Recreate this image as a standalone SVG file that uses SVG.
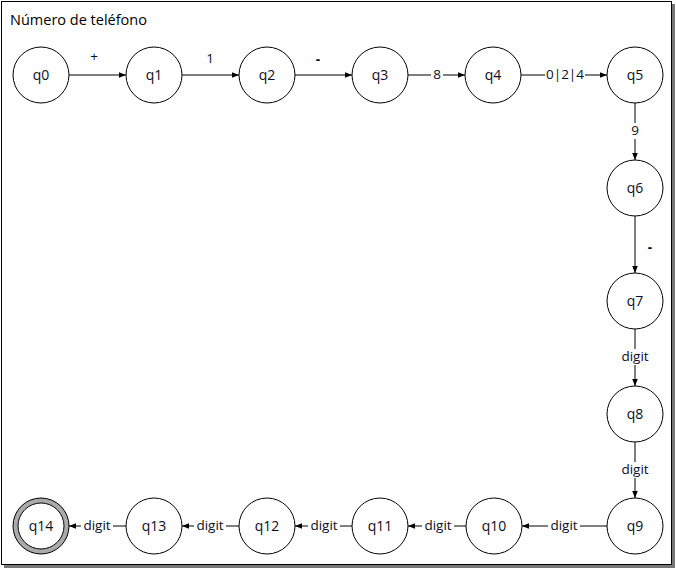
<svg xmlns="http://www.w3.org/2000/svg" width="676" height="568" viewBox="0 0 676 568">
<defs>
<marker id="ah" viewBox="0 0 10 10" refX="10" refY="5" markerWidth="7" markerHeight="7" markerUnits="userSpaceOnUse" orient="auto"><path d="M0,1 L10,5 L0,9 z" fill="#000"/></marker>
<style>
.st{fill:#fff;stroke:#000;stroke-width:1}
.t{font-family:"Open Sans","Liberation Sans",sans-serif;font-size:14px;fill:#0d0d26;text-anchor:middle;dominant-baseline:central}
.e{stroke:#000;stroke-width:1;fill:none;marker-end:url(#ah)}
.lb{font-family:"Open Sans","Liberation Sans",sans-serif;font-size:13.5px;fill:#0d0d26;text-anchor:middle;dominant-baseline:central}
.bg{fill:#fff}
</style>
</defs>
<rect x="0" y="0" width="676" height="568" fill="#fff"/>
<line x1="673.5" y1="4" x2="673.5" y2="567" stroke="#777" stroke-width="3"/>
<line x1="4" y1="566.5" x2="675" y2="566.5" stroke="#777" stroke-width="3"/>
<rect x="1.5" y="1.5" width="670" height="563" fill="#fff" stroke="#000" stroke-width="1"/>
<text x="10" y="19" font-family="'Open Sans','Liberation Sans',sans-serif" font-size="14.5" fill="#000" dominant-baseline="central">Número de teléfono</text>
<g id="connectors">
<line class="e" x1="69" y1="75" x2="126" y2="75"/>
<text class="lb" x="94" y="56">+</text>
<line class="e" x1="182" y1="75" x2="239" y2="75"/>
<text class="lb" x="210" y="58">1</text>
<line class="e" x1="295" y1="75" x2="352" y2="75"/>
<text class="lb" x="318" y="59" font-weight="bold" font-size="16">-</text>
<line class="e" x1="408" y1="75" x2="465" y2="75"/>
<rect class="bg" x="431" y="67" width="12" height="16"/>
<text class="lb" x="437" y="74">8</text>
<line class="e" x1="521" y1="75" x2="607" y2="75"/>
<rect class="bg" x="545" y="67" width="40" height="16"/>
<text class="lb" x="565" y="74">0|2|4</text>
<line class="e" x1="635" y1="103" x2="635" y2="160"/>
<rect class="bg" x="629" y="123" width="12" height="16"/>
<text class="lb" x="635" y="130">9</text>
<line class="e" x1="635" y1="216" x2="635" y2="273"/>
<text class="lb" x="650" y="247" font-weight="bold" font-size="16">-</text>
<line class="e" x1="635" y1="329" x2="635" y2="386"/>
<rect class="bg" x="619" y="349" width="32" height="16"/>
<text class="lb" x="635" y="356">digit</text>
<line class="e" x1="635" y1="442" x2="635" y2="498"/>
<rect class="bg" x="619" y="462" width="32" height="16"/>
<text class="lb" x="635" y="469">digit</text>
<line class="e" x1="607" y1="526" x2="522" y2="526"/>
<rect class="bg" x="548" y="518" width="32" height="16"/>
<text class="lb" x="564" y="525">digit</text>
<line class="e" x1="466" y1="526" x2="408" y2="526"/>
<rect class="bg" x="422" y="518" width="32" height="16"/>
<text class="lb" x="438" y="525">digit</text>
<line class="e" x1="352" y1="526" x2="295" y2="526"/>
<rect class="bg" x="308" y="518" width="32" height="16"/>
<text class="lb" x="324" y="525">digit</text>
<line class="e" x1="239" y1="526" x2="182" y2="526"/>
<rect class="bg" x="194" y="518" width="32" height="16"/>
<text class="lb" x="210" y="525">digit</text>
<line class="e" x1="126" y1="526" x2="69" y2="526"/>
<rect class="bg" x="81" y="518" width="32" height="16"/>
<text class="lb" x="97" y="525">digit</text>
</g>
<g id="q0"><circle class="st" cx="41" cy="75" r="28"/><text class="t" x="41" y="74">q0</text></g>
<g id="q1"><circle class="st" cx="154" cy="75" r="28"/><text class="t" x="154" y="74">q1</text></g>
<g id="q2"><circle class="st" cx="267" cy="75" r="28"/><text class="t" x="267" y="74">q2</text></g>
<g id="q3"><circle class="st" cx="380" cy="75" r="28"/><text class="t" x="380" y="74">q3</text></g>
<g id="q4"><circle class="st" cx="493" cy="75" r="28"/><text class="t" x="493" y="74">q4</text></g>
<g id="q5"><circle class="st" cx="635" cy="75" r="28"/><text class="t" x="635" y="74">q5</text></g>
<g id="q6"><circle class="st" cx="635" cy="188" r="28"/><text class="t" x="635" y="187">q6</text></g>
<g id="q7"><circle class="st" cx="635" cy="301" r="28"/><text class="t" x="635" y="300">q7</text></g>
<g id="q8"><circle class="st" cx="635" cy="414" r="28"/><text class="t" x="635" y="413">q8</text></g>
<g id="q9"><circle class="st" cx="635" cy="526" r="28"/><text class="t" x="635" y="525">q9</text></g>
<g id="q10"><circle class="st" cx="494" cy="526" r="28"/><text class="t" x="494" y="525">q10</text></g>
<g id="q11"><circle class="st" cx="380" cy="526" r="28"/><text class="t" x="380" y="525">q11</text></g>
<g id="q12"><circle class="st" cx="267" cy="526" r="28"/><text class="t" x="267" y="525">q12</text></g>
<g id="q13"><circle class="st" cx="154" cy="526" r="28"/><text class="t" x="154" y="525">q13</text></g>
<g id="q14"><circle cx="41" cy="526" r="25.5" fill="none" stroke="#aaa" stroke-width="5"/><circle cx="41" cy="526" r="28" fill="none" stroke="#000" stroke-width="1"/><circle cx="41" cy="526" r="23" fill="#fff" stroke="#000" stroke-width="1"/><text class="t" x="41" y="525">q14</text></g>
</svg>
